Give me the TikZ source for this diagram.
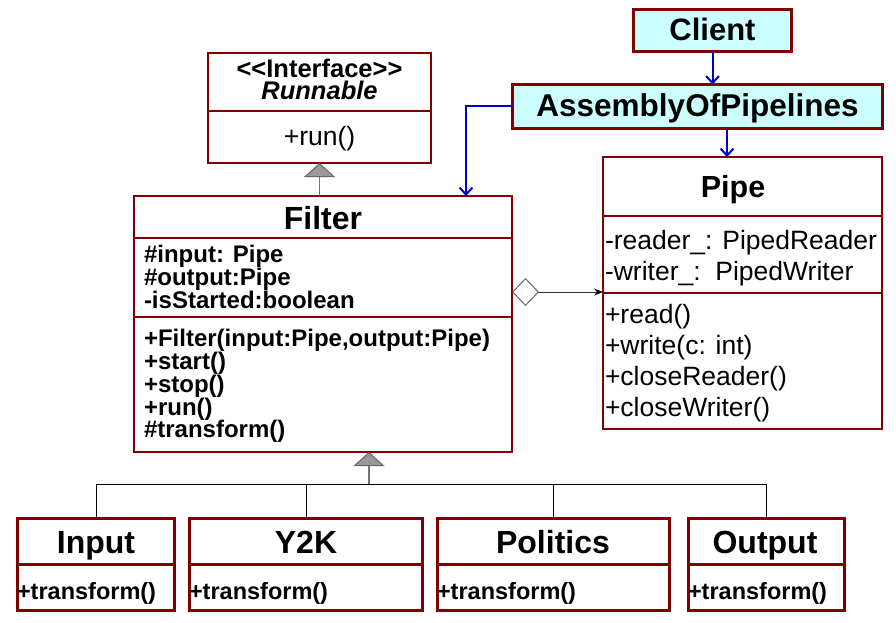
\documentclass[tikz,border=0pt]{standalone}
\usepackage{fontspec}
\setmainfont{Liberation Sans}
\usetikzlibrary{arrows.meta}
\definecolor{dred}{HTML}{800000}
\definecolor{cyanfill}{HTML}{CCFFFF}
\definecolor{ablue}{HTML}{0000CC}
\newcommand\fsz[1]{\fontsize{#1}{#1}\selectfont}
\newcommand\lt{\textless\kern0pt}
\newcommand\gt{\kern0pt\textgreater}
\begin{document}
\begin{tikzpicture}[x=1pt,y=-1pt,
  umlbox/.style={draw=dred, line width=1.2pt, fill=white, inner sep=0pt, outer sep=0pt, anchor=north west},
  heavybox/.style={draw=dred, line width=3pt, fill=white, inner sep=0pt, outer sep=0pt, anchor=north west},
  cyanbox/.style={heavybox, fill=cyanfill},
  thindiv/.style={draw=dred, line width=1.2pt},
  heavydiv/.style={draw=dred, line width=3pt},
  txt/.style={inner sep=0pt, outer sep=0pt},
  ctitle/.style={txt, anchor=base, font=\fsz{32}\bfseries},
  lline/.style={txt, anchor=base west},
  genarrow/.style={draw=black!55, line width=1.8pt, -{Triangle[width=31pt,length=14pt,fill=black!40,color=black!60,line width=1pt]}},
  treeline/.style={draw=black, line width=1pt},
  aggr/.style={draw=black!80, line width=1pt, {Diamond[open,length=27pt,width=28pt,color=black!60,line width=1pt]}-{Stealth[length=9pt,width=7pt,color=black]}},
  bluearrow/.style={draw=ablue, line width=2pt, -{Straight Barb[length=7pt,width=13pt]}}
]
\useasboundingbox[fill=white] (0,0) rectangle (896,623);

% Runnable interface
\node[umlbox, minimum width=223pt, minimum height=110pt] (run) at (208,53) {};
\draw[thindiv] (208,111) -- (431,111);
\node[txt, anchor=base, font=\fsz{25.5}\bfseries] (runA) at (319.5,77.5)
  {\lt\lt Interface\gt\gt};
\node[txt, anchor=base, font=\fsz{25.5}\bfseries\itshape] (runB) at (319.5,99.5) {Runnable};
\node[txt, anchor=base, font=\fsz{26.5}] (runC) at (319.5,145) {+run()};

% Filter
\node[umlbox, minimum width=378pt, minimum height=256pt] (filter) at (134,196) {};
\draw[thindiv] (134,238) -- (512,238);
\draw[thindiv] (134,317) -- (512,317);
\node[ctitle] (filterT) at (323,229) {Filter};
\begin{scope}[every node/.style={lline, font=\fsz{24}\bfseries}]
\node (fa1) at (144,262) {\#input: Pipe};
\node (fa2) at (144,285) {\#output:Pipe};
\node (fa3) at (144,308) {-isStarted:boolean};
\node (fm1) at (144,346) {+Filter(input:Pipe,output:Pipe)};
\node (fm2) at (144,369) {+start()};
\node (fm3) at (144,392) {+stop()};
\node (fm4) at (144,415) {+run()};
\node (fm5) at (144,437.5) {\#transform()};
\end{scope}

% Pipe
\node[umlbox, minimum width=279pt, minimum height=272pt] (pipe) at (603,157) {};
\draw[thindiv] (603,216) -- (882,216);
\draw[thindiv] (603,293) -- (882,293);
\node[txt, anchor=base, font=\fsz{30.5}\bfseries] (pipeT) at (733,197) {Pipe};
\begin{scope}[every node/.style={lline, font=\fsz{26.5}}]
\node (pa1) at (605,249) {-reader\_: PipedReader};
\node (pa2) at (605,280) {-writer\_:\ \ PipedWriter};
\node (pm1) at (605,323) {+read()};
\node (pm2) at (605,354) {+write(c: int)};
\node (pm3) at (605,385) {+closeReader()};
\node (pm4) at (605,416) {+closeWriter()};
\end{scope}

% Client and AssemblyOfPipelines
\node[cyanbox, minimum width=158pt, minimum height=42pt] (client) at (633.5,9.5) {};
\node[txt, anchor=base, font=\fsz{31}\bfseries] (clientT) at (712.5,41) {Client};
\node[cyanbox, minimum width=370pt, minimum height=44pt] (asm) at (512.5,84.5) {};
\node[txt, anchor=base, font=\fsz{31.5}\bfseries] (asmT) at (697.5,117) {AssemblyOfPipelines};

% Subclasses
\node[heavybox, minimum width=157pt, minimum height=92pt] (input) at (17.5,518.5) {};
\node[heavybox, minimum width=233pt, minimum height=92pt] (y2k) at (189.5,518.5) {};
\node[heavybox, minimum width=232pt, minimum height=92pt] (politics) at (437.5,518.5) {};
\node[heavybox, minimum width=156pt, minimum height=92pt] (output) at (688.5,518.5) {};
\draw[heavydiv] (17.5,564) -- (174.5,564);
\draw[heavydiv] (189.5,564) -- (422.5,564);
\draw[heavydiv] (437.5,564) -- (669.5,564);
\draw[heavydiv] (688.5,564) -- (844.5,564);
\node[ctitle] (inputT) at (96,553) {Input};
\node[ctitle] (y2kT) at (306,553) {Y2K};
\node[ctitle] (politicsT) at (553,553) {Politics};
\node[ctitle] (outputT) at (765,553) {Output};
\begin{scope}[every node/.style={lline, font=\fsz{23.5}\bfseries}]
\node (inputM) at (17,599) {+transform()};
\node (y2kM) at (189,599) {+transform()};
\node (politicsM) at (437,599) {+transform()};
\node (outputM) at (688,599) {+transform()};
\end{scope}

% Connectors
\coordinate (genTop) at (319.5,196);
\draw[genarrow] (genTop) -- (genTop |- run.south);

\coordinate (hub) at (369,484);
\draw[genarrow] (hub) -- (hub |- filter.south);
\draw[treeline] (input.north |- hub) -- (output.north |- hub);
\foreach \n in {input,y2k,politics,output}
  \draw[treeline] (\n.north |- hub) -- (\n.north);

\coordinate (aggS) at (512,292);
\draw[aggr] (aggS) -- (aggS -| pipe.west);

\draw[bluearrow] (client.south) -- (client.south |- asm.north);
\coordinate (apS) at (727,130);
\draw[bluearrow] (apS) -- (apS |- pipe.north);
\coordinate (fIn) at (466,196);
\draw[bluearrow] (asm.west) -| (fIn);
\end{tikzpicture}
\end{document}
